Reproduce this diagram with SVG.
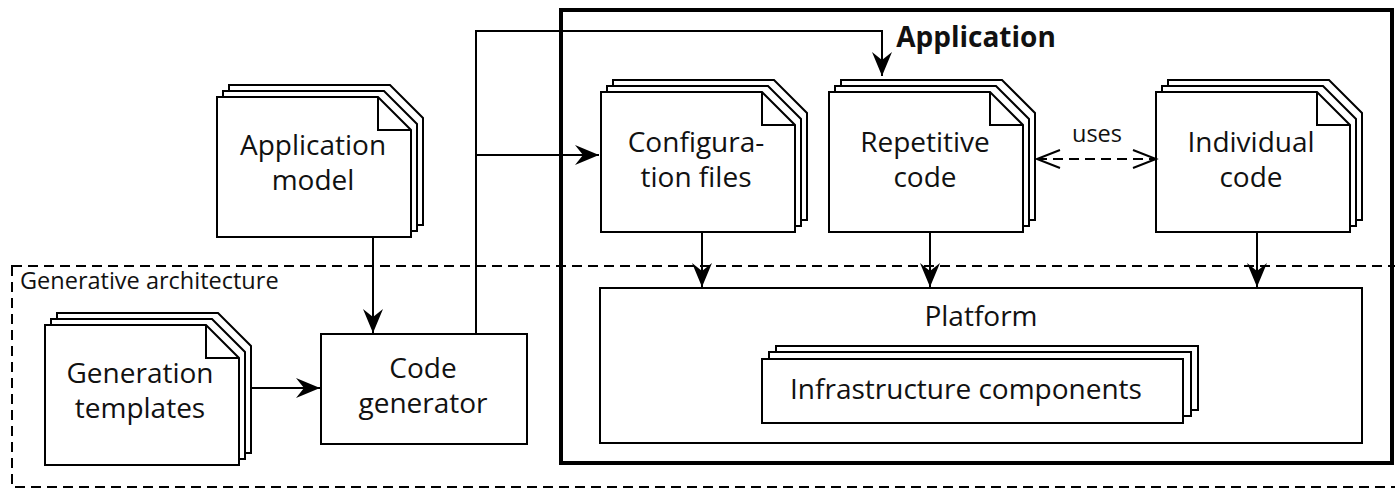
<svg xmlns="http://www.w3.org/2000/svg" width="1395" height="489" viewBox="0 0 1395 489">
<style>
.ln{fill:none;stroke:#000;stroke-width:2}
.pg{fill:#fff;stroke:#000;stroke-width:2;stroke-linejoin:miter}
.t{font-family:"Open Sans","Liberation Sans",sans-serif;font-size:28px;fill:#111;text-anchor:middle}
.s{font-family:"Open Sans","Liberation Sans",sans-serif;font-size:23.5px;fill:#111}
.dash{fill:none;stroke:#000;stroke-width:2;stroke-dasharray:10,6}
</style>
<defs>
<marker id="ah" markerUnits="userSpaceOnUse" markerWidth="24" markerHeight="20" refX="24" refY="10" orient="auto">
<path d="M0,0 L24,10 L0,20 L8,10 Z" fill="#000"/>
</marker>
<marker id="oa" markerUnits="userSpaceOnUse" markerWidth="27" markerHeight="22" refX="24" refY="11" orient="auto-start-reverse">
<path d="M1,2 L24,11 L1,20" fill="none" stroke="#000" stroke-width="2"/>
</marker>
<g id="doc">
<path class="pg" d="M12,-12 H173 L206,21 V128 H12 Z"/>
<path class="pg" d="M6,-6 H167 L200,27 V134 H6 Z"/>
<path class="pg" d="M0,0 H161 L194,33 V140 H0 Z"/>
<path class="ln" d="M161,0 V33 H194"/>
</g>
</defs>

<g id="generative-architecture">
<rect class="dash" x="12" y="266" width="1400" height="221"/>
<text class="s" x="20" y="289">Generative architecture</text>
</g>

<g id="application">
<rect x="561" y="10" width="831" height="453" fill="none" stroke="#000" stroke-width="4"/>
<text x="976" y="47" font-family="Open Sans, Liberation Sans, sans-serif" font-size="28" font-weight="bold" fill="#111" text-anchor="middle">Application</text>
</g>

<g id="application-model">
<use href="#doc" x="217" y="97"/>
<text class="t" x="313" y="155">Application</text>
<text class="t" x="313" y="190">model</text>
</g>

<g id="generation-templates">
<use href="#doc" x="45" y="325"/>
<text class="t" x="140" y="383">Generation</text>
<text class="t" x="140" y="418">templates</text>
</g>

<g id="code-generator">
<rect class="pg" x="321" y="334" width="206" height="110"/>
<text class="t" x="423" y="378">Code</text>
<text class="t" x="423" y="413">generator</text>
</g>

<g id="configuration-files">
<use href="#doc" x="601" y="92"/>
<text class="t" x="696" y="152">Configura-</text>
<text class="t" x="696" y="187">tion files</text>
</g>

<g id="repetitive-code">
<use href="#doc" x="829" y="92"/>
<text class="t" x="925" y="152">Repetitive</text>
<text class="t" x="925" y="187">code</text>
</g>

<g id="individual-code">
<use href="#doc" x="1156" y="92"/>
<text class="t" x="1251" y="152">Individual</text>
<text class="t" x="1251" y="187">code</text>
</g>

<g id="platform">
<rect class="pg" x="600" y="288" width="762" height="155"/>
<text class="t" x="981" y="326">Platform</text>
<g id="infrastructure-components">
<rect class="pg" x="776" y="346" width="422" height="64"/>
<rect class="pg" x="769" y="352" width="422" height="64"/>
<rect class="pg" x="762" y="359" width="421" height="64"/>
<text class="t" x="966" y="399">Infrastructure components</text>
</g>
</g>

<g id="connectors">
<path class="ln" d="M373,237 V333" marker-end="url(#ah)"/>
<path class="ln" d="M252,388 H320" marker-end="url(#ah)"/>
<path class="ln" d="M476,334 V31 H882 V76" marker-end="url(#ah)"/>
<path class="ln" d="M476,155 H599" marker-end="url(#ah)"/>
<path class="ln" d="M702,232 V287" marker-end="url(#ah)"/>
<path class="ln" d="M930,232 V287" marker-end="url(#ah)"/>
<path class="ln" d="M1257,232 V287" marker-end="url(#ah)"/>
<path class="dash" d="M1037,159 H1156" marker-start="url(#oa)" marker-end="url(#oa)"/>
<text class="s" x="1097" y="142" text-anchor="middle">uses</text>
</g>
</svg>
